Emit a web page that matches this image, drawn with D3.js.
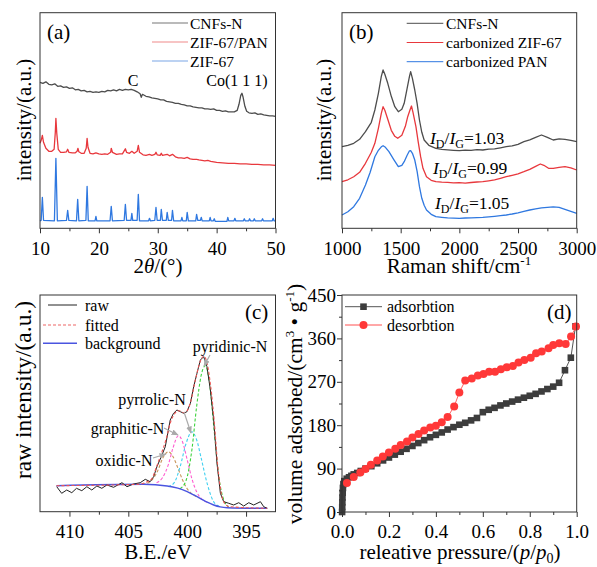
<!DOCTYPE html>
<html>
<head>
<meta charset="utf-8">
<script src="https://cdn.jsdelivr.net/npm/d3@7"></script>
<style>
  body { margin: 0; background: #fff; }
  svg { font-family: "Liberation Serif", "Times New Roman", serif; }
</style>
</head>
<body>
<main></main>
<script>
// ---- (a) XRD, [2theta, intensity a.u.]
const xrdCnfs = [[10,146],[10.5,145],[11,146.5],[11.5,144],[12,143.5],[12.5,144.5],[13,142],[13.5,142.5],[14,141],[14.5,141.5],[15,140],[15.5,140.5],[16,138.5],[16.5,139],[17,137.5],[17.5,138],[18,136.5],[18.5,137],[19,136],[19.5,136.5],[20,136],[20.5,137],[21,136.5],[21.5,138],[22,137.5],[22.5,138.5],[23,137.5],[23.5,139],[24,138],[24.5,139],[25,138.5],[25.5,139],[26,138],[26.5,136.5],[27,134.5],[27.2,131],[27.4,134],[28,132],[28.5,131.5],[29,130.5],[29.5,130],[30,129.5],[30.5,128.5],[31,128.5],[31.5,127],[32,126.5],[32.5,126],[33,125],[33.5,125],[34,124],[34.5,123.5],[35,122.5],[35.5,122.5],[36,121.5],[36.5,121],[37,120.5],[37.5,120.5],[38,119.5],[38.5,119.5],[39,119],[39.5,119.5],[40,118],[40.5,118],[41,117],[41.5,117.5],[42,116.5],[42.5,116.5],[43,116.5],[43.5,118],[43.8,124],[44.1,133],[44.3,135],[44.5,131],[44.8,122],[45.1,117],[45.5,115.5],[46,115],[46.5,115.5],[47,114],[47.5,114.5],[48,113.5],[48.5,113],[49,112.5],[49.5,112.5],[50,112]]
const xrdPan = [[10,85],[10.2,88],[10.4,93],[10.6,86],[11,80],[11.5,77],[12,77],[12.4,79],[12.6,96],[12.7,110],[12.85,95],[13.1,79],[13.5,76],[14,76],[14.5,76.5],[14.7,79],[14.9,76],[15.5,75.5],[16,75.5],[16.3,77],[16.45,80],[16.6,76.5],[17,75],[17.5,75],[17.85,80],[18,90],[18.15,81],[18.5,75],[19,74.5],[19.5,75.5],[20,74.5],[20.5,74],[21,74.5],[21.5,74],[22,76],[22.1,80],[22.3,76],[23,74],[23.5,74.5],[24,74.5],[24.5,79.5],[24.7,76],[25.2,75],[25.6,77],[26,75],[26.5,77],[26.7,83],[26.9,76],[27.5,73.5],[28,73],[28.6,74],[29,73],[29.5,74],[29.7,76],[29.9,73.5],[30.4,73],[30.6,75],[30.8,73],[31.6,74],[32,72.5],[32.5,74],[33,71.5],[33.5,70.5],[34,70.5],[34.5,70],[35,71],[35.5,69.5],[36,69],[36.6,69],[37,68.5],[37.5,68],[38,67.5],[38.5,68],[39,67],[39.5,66.5],[40,66],[41,65.5],[42,65],[43,65],[44,64.5],[45,64.5],[46,64],[47,64],[48,63.5],[49,63.5],[50,63]]
const xrdZif = [[10,7.5],[10.2,8],[10.4,31],[10.6,8],[12.45,7.5],[12.7,70],[12.95,7.5],[14.5,8],[14.7,18],[14.9,8],[16.2,7.5],[16.4,29],[16.6,7.5],[17.8,8],[18,42],[18.2,7.5],[19.35,7.5],[19.5,12],[19.65,7.5],[21.9,7.5],[22.1,22],[22.3,7.5],[24.3,8],[24.5,24],[24.7,8],[25.45,8],[25.6,15],[25.75,8],[26.5,8],[26.7,34],[26.9,7.5],[28.45,7.5],[28.6,10],[28.75,7.5],[29.5,8],[29.7,21],[29.9,8],[30.45,8],[30.6,19],[30.8,8],[31.45,8],[31.6,16],[31.8,8],[32.35,8],[32.5,18],[32.7,7.5],[33.95,7.5],[34.1,11],[34.25,7.5],[34.85,7.5],[35,16],[35.2,7.5],[36.45,7.5],[36.6,14],[36.8,8],[37.25,8],[37.4,11],[37.55,7.5],[38.75,7.5],[38.9,11],[39.05,7.5],[39.45,7.5],[39.6,9.5],[39.75,7],[41.75,7],[41.9,11],[42.05,7.5],[42.95,7.5],[43.1,10],[43.25,7.5],[44.55,7.5],[44.7,9.5],[44.85,7.5],[45.45,7.5],[45.6,9.5],[45.75,7.5],[46.25,7.5],[46.4,9.5],[46.55,7.5],[47.65,7.5],[47.8,9.5],[47.95,7.5],[49.45,7.5],[49.6,10],[49.75,7.5],[50,7.5]]
const xrdNames = ['CNFs-N', 'ZIF-67/PAN', 'ZIF-67']
const xrdTicks = [10, 20, 30, 40, 50]

// ---- (b) Raman, [shift, intensity a.u.]
const ramanCnfs = [[1000,81.6],[1050,83],[1100,85],[1150,89],[1200,96.6],[1250,106],[1280,118.3],[1310,135],[1335,152],[1350,158.3],[1365,154],[1390,145],[1420,132],[1450,121.6],[1480,116.6],[1510,119],[1530,125],[1555,140],[1575,152],[1585,156.6],[1600,150],[1620,138.3],[1640,125],[1660,108.3],[1680,96],[1700,88.3],[1740,83],[1800,80],[1850,79],[1900,78.5],[1950,78],[2000,77.6],[2050,78.2],[2100,78],[2150,78.6],[2200,78.3],[2250,79.2],[2300,79.5],[2350,80.5],[2400,81.6],[2450,82.4],[2500,84],[2550,86.6],[2600,88.5],[2650,91],[2700,93.3],[2750,91],[2800,88.3],[2850,89.5],[2900,89],[2950,88],[3000,86.6]]
const ramanZif = [[1000,46.6],[1050,48.5],[1100,51.6],[1150,56],[1200,65],[1250,76],[1280,85],[1310,100],[1335,115],[1350,121.6],[1365,118],[1390,109],[1420,98],[1450,92],[1475,90],[1510,93],[1540,102],[1560,111.6],[1580,118.5],[1592,122.3],[1605,116],[1630,101.6],[1650,86],[1670,71.6],[1690,60],[1720,51.6],[1760,48],[1800,46.6],[1850,46.2],[1900,46],[1950,45.4],[2000,45.6],[2050,45.2],[2100,45.8],[2150,46.3],[2200,46.6],[2250,47.5],[2300,48.5],[2350,50],[2400,51.6],[2450,53],[2500,54.5],[2550,56.6],[2600,59],[2650,62],[2690,64.3],[2720,63],[2760,60],[2800,60],[2850,61],[2900,61.6],[2950,60.5],[3000,58.3]]
const ramanPan = [[1000,13.3],[1050,16.5],[1100,21.6],[1150,30],[1200,43.3],[1240,56],[1280,71.6],[1310,78],[1335,81.5],[1350,82.6],[1370,81],[1400,76.6],[1440,69],[1480,61.6],[1510,63],[1530,66.6],[1555,73],[1575,77.5],[1585,77.6],[1600,75],[1620,68.3],[1640,57],[1660,41.6],[1680,30],[1700,23],[1720,18.3],[1760,14],[1800,11.6],[1850,11],[1900,10.5],[1950,10.2],[2000,10],[2050,10.3],[2100,10.5],[2150,10.7],[2200,11],[2250,11.5],[2300,12],[2350,12.6],[2400,13.3],[2450,14.3],[2500,15.5],[2550,17],[2600,18.3],[2650,19.5],[2700,20.5],[2750,21],[2800,21.5],[2850,21],[2900,19],[2950,17],[3000,15]]
const ramanNames = ['CNFs-N', 'carbonized ZIF-67', 'carbonized PAN']
const ratioLabels = ['1.03', '0.99', '1.05']
const ramanTicks = [1000, 1500, 2000, 2500, 3000]

// ---- (c) XPS N1s, [binding energy, intensity a.u.]
const xpsRaw = [[411.08,25],[410.66,18.4],[410.23,21.7],[409.8,19],[409.4,23.4],[408.95,21],[408.52,25],[408.1,21.7],[407.67,25.7],[407.25,23.4],[406.82,26.7],[406.25,24.4],[405.54,29],[405.11,25],[404.56,27.7],[403.99,29],[403.56,32.4],[403.14,30],[402.85,35],[402.57,45],[402.14,56.7],[401.86,65],[401.44,91.7],[401.16,98.4],[400.87,101.7],[400.58,100],[400.3,98.4],[400.02,100],[399.73,108.4],[399.45,125],[399.17,138.4],[398.88,151.7],[398.6,155],[398.32,145],[398.03,121.7],[397.75,91.7],[397.47,48.4],[397.18,18.4],[396.9,10],[396.47,8.4],[396.05,6.7],[395.62,9],[395.2,5.7],[394.77,9],[394.35,6.7],[393.78,10],[393.5,5],[393.21,3.4]]
const xpsFit = [[411.1,26],[404,27.5],[403.4,30],[403,33],[402.6,45],[402.2,58],[401.8,72],[401.4,90],[401,99],[400.7,101],[400.3,99],[400,101],[399.7,110],[399.3,132],[398.9,150],[398.6,155.5],[398.3,148],[398,125],[397.7,90],[397.4,45],[397.1,18],[396.8,8],[396.4,5],[393.2,3.4]]
const xpsBackground = [[411.1,26],[403.7,27.4],[401.7,25.7],[400.8,23.5],[400,20],[399.4,16.5],[398.9,13.4],[398.3,9.5],[397.75,6.7],[397.2,4.8],[396.6,4],[393.2,3.4]]
const xpsOxidic = [[403.8,27.3],[403.3,29],[402.9,33],[402.5,41],[402.1,53],[401.6,60],[401.2,55],[400.8,44],[400.4,32],[400,23],[399.5,17],[399,14]]
const xpsGraphitic = [[402.6,29],[402.1,34],[401.6,47],[401.2,64],[400.75,76],[400.4,70],[400,52],[399.6,33],[399.2,20],[398.8,13],[398.3,9.5]]
const xpsPyrrolic = [[401.6,25],[401.1,29],[400.6,45],[400.1,68],[399.6,80],[399.2,72],[398.8,53],[398.3,28],[397.8,11],[397.3,5.5]]
const xpsPyridinic = [[400.6,23],[400.1,31],[399.6,62],[399.2,105],[398.8,137],[398.45,146],[398.1,128],[397.7,80],[397.3,34],[396.9,12],[396.5,5]]
const xpsNames = ['raw', 'fitted', 'background']
const xpsTicks = [410, 405, 400, 395]

// ---- (d) N2 isotherm
const adsP = [0.0005,0.001,0.0015,0.002,0.003,0.004,0.006,0.01,0.02,0.03,0.04,0.05,0.065,0.08,0.1,0.125,0.15,0.175,0.2,0.225,0.25,0.275,0.3,0.325,0.35,0.375,0.4,0.425,0.45,0.475,0.5,0.525,0.55,0.575,0.6,0.625,0.65,0.675,0.7,0.725,0.75,0.775,0.8,0.825,0.85,0.875,0.9,0.925,0.95,0.975,0.995]
const adsV = [0,10,20,30,40,50,58,64,69,72,75,78,81,85,90,95,101,107,113,119,125,131,137,143,149,155,160,165,171,176,181,185,190,195,207,212,216,221,225,229,233,237,241,245,250,255,260,268,294,320,385]
const desP = [0.021,0.05,0.078,0.1,0.123,0.15,0.174,0.2,0.227,0.25,0.277,0.3,0.326,0.35,0.376,0.4,0.425,0.45,0.478,0.5,0.525,0.553,0.579,0.603,0.627,0.652,0.677,0.702,0.728,0.752,0.777,0.804,0.827,0.851,0.88,0.9,0.926,0.953,0.976,0.997]
const desV = [60,72.5,82,89,98,107,115,123.5,131,139,146,154.6,162,169,175,179,186,197,219,248,272.6,277,283,286,290.6,291,296,300,303,310,315,320,329,333,339.6,346.5,350,348.6,363.7,384.5]
const isoNames = ['adsorbtion', 'desorbtion']
const pTicks = [0, 0.2, 0.4, 0.6, 0.8, 1.0]
const vTicks = [0, 90, 180, 270, 360, 450]

const width = 597
const height = 567
const font = '"Liberation Serif", "Times New Roman", serif'

const boxes = {
  a: { l: 40, t: 12.7, r: 275.5, b: 228.3 },
  b: { l: 342, t: 12.7, r: 576.7, b: 228.3 },
  c: { l: 40, t: 295, r: 275.5, b: 511.7 },
  d: { l: 342, t: 295, r: 576.7, b: 512 }
}

const svg = d3.select('main')
              .append('svg')
              .attr('width', width)
              .attr('height', height)

const defs = svg.append('defs')
defs.append('marker')
    .attr('id', 'arrow')
    .attr('viewBox', '0 0 10 10')
    .attr('refX', 9).attr('refY', 5)
    .attr('markerWidth', 6).attr('markerHeight', 6)
    .attr('orient', 'auto-start-reverse')
  .append('path')
    .attr('d', 'M0,1 L10,5 L0,9 z')
    .attr('fill', '#aaa')

const frame = (box) => {
  svg.append('rect')
     .attr('x', box.l).attr('y', box.t)
     .attr('width', box.r - box.l).attr('height', box.b - box.t)
     .attr('fill', 'none').attr('stroke', '#333').attr('stroke-width', 1)
}

const styleAxis = (g) => {
  g.select('.domain').remove()
  g.attr('color', '#333')
   .attr('font-family', font)
   .attr('font-size', 19)
  g.selectAll('text').attr('fill', '#000')
}

const bottomAxis = (box, x, major, fmt) => {
  const minor = []
  for (let i = 0; i < major.length - 1; i++) minor.push((major[i] + major[i + 1]) / 2)
  svg.append('g')
     .attr('transform', `translate(0,${box.b})`)
     .call(d3.axisBottom(x).tickValues(minor).tickSize(3).tickFormat(''))
     .call(styleAxis)
  svg.append('g')
     .attr('transform', `translate(0,${box.b})`)
     .call(d3.axisBottom(x).tickValues(major).tickSize(5).tickPadding(8).tickFormat(fmt))
     .call(styleAxis)
}

const leftAxis = (box, y, major) => {
  const minor = []
  for (let i = 0; i < major.length - 1; i++) minor.push((major[i] + major[i + 1]) / 2)
  svg.append('g')
     .attr('transform', `translate(${box.l},0)`)
     .call(d3.axisLeft(y).tickValues(minor).tickSize(3).tickFormat(''))
     .call(styleAxis)
  svg.append('g')
     .attr('transform', `translate(${box.l},0)`)
     .call(d3.axisLeft(y).tickValues(major).tickSize(5).tickPadding(1).tickFormat(d3.format('d')))
     .call(styleAxis)
}

const text = (x, y, str, size, anchor = 'start') => {
  return svg.append('text')
            .attr('x', x).attr('y', y)
            .attr('font-family', font)
            .attr('font-size', size)
            .attr('text-anchor', anchor)
            .attr('fill', '#000')
            .text(str)
}

const yTitle = (x, y, size) => {
  return svg.append('text')
            .attr('transform', `translate(${x},${y}) rotate(-90)`)
            .attr('font-family', font)
            .attr('font-size', size)
            .attr('text-anchor', 'middle')
            .attr('fill', '#000')
}

const drawLine = (data, x, y, color, w = 1.2, curve = d3.curveLinear, dash = null) => {
  svg.append('path')
     .datum(data)
     .attr('d', d3.line().x(d => x(d[0])).y(d => y(d[1])).curve(curve))
     .attr('fill', 'none')
     .attr('stroke', color)
     .attr('stroke-width', w)
     .attr('stroke-linejoin', 'round')
     .attr('stroke-dasharray', dash)
}

const legendLine = (x1, x2, y, color, w = 1.2, dash = null) => {
  svg.append('line')
     .attr('x1', x1).attr('x2', x2).attr('y1', y).attr('y2', y)
     .attr('stroke', color).attr('stroke-width', w)
     .attr('stroke-dasharray', dash)
}

// ---------------- panel (a)
const drawXrd = () => {
  const box = boxes.a
  const x = d3.scaleLinear().domain([10, 50]).range([box.l, box.r])
  const y = d3.scaleLinear().domain([0, 215.6]).range([box.b, box.t])
  const colors = ['#4d4d4d', '#e8383d', '#2f78e0']
  const legendColors = ['#777', '#f08a8a', '#7aa6e6']
  const series = [xrdCnfs, xrdPan, xrdZif]
  series.forEach((s, i) => drawLine(s, x, y, colors[i], 1.3))
  frame(box)
  bottomAxis(box, x, xrdTicks, d3.format('d'))

  xrdNames.forEach((n, i) => {
    const ly = 23 + i * 19
    legendLine(152, 188, ly, legendColors[i], 1.2)
    text(190, ly + 5.5, n, 15.5)
  })
  text(47, 39, '(a)', 21)
  text(133, 86, 'C', 16, 'middle')
  text(237, 86, 'Co(1 1 1)', 16, 'middle')

  const t = text(158, 273, '', 21, 'middle')
  t.append('tspan').text('2')
  t.append('tspan').attr('font-style', 'italic').text('θ')
  t.append('tspan').text('/(°)')
  yTitle(31, 120, 21).text('intensity/(a.u.)')
}

// ---------------- panel (b)
const drawRaman = () => {
  const box = boxes.b
  const x = d3.scaleLinear().domain([1000, 3000]).range([box.l, box.r])
  const y = d3.scaleLinear().domain([0, 215.6]).range([box.b, box.t])
  const colors = ['#4d4d4d', '#e8383d', '#2f78e0']
  const series = [ramanCnfs, ramanZif, ramanPan]
  series.forEach((s, i) => drawLine(s, x, y, colors[i], 1.3))
  frame(box)
  bottomAxis(box, x, ramanTicks, d3.format('d'))

  ramanNames.forEach((n, i) => {
    const ly = 23.3 + i * 19.2
    legendLine(406.7, 443.3, ly, colors[i], 1)
    text(446, ly + 5.5, n, 15.5)
  })
  text(349, 39, '(b)', 21)

  const ratioPos = [[430, 144], [433, 174], [435, 209]]
  ratioLabels.forEach((r, i) => {
    const t = text(ratioPos[i][0], ratioPos[i][1], '', 17.5)
    t.append('tspan').attr('font-style', 'italic').text('I')
    t.append('tspan').attr('font-size', 12).attr('dy', 4).text('D')
    t.append('tspan').attr('dy', -4).text('/')
    t.append('tspan').attr('font-style', 'italic').text('I')
    t.append('tspan').attr('font-size', 12).attr('dy', 4).text('G')
    t.append('tspan').attr('dy', -4).text('=' + r)
  })

  const t = text(459, 273, 'Raman shift/cm', 21, 'middle')
  t.append('tspan').attr('font-size', 13).attr('dy', -8).text('-1')
  yTitle(331, 120, 21).text('intensity/(a.u.)')
}

// ---------------- panel (c)
const drawXps = () => {
  const box = boxes.c
  const x = d3.scaleLinear().domain([412.5, 392.5]).range([box.l, box.r])
  const y = d3.scaleLinear().domain([0, 216.7]).range([box.b, box.t])
  const smooth = d3.curveMonotoneX

  drawLine(xpsOxidic, x, y, '#c8955a', 1.1, smooth, '3,2')
  drawLine(xpsGraphitic, x, y, '#ff5ccf', 1.1, smooth, '3,2')
  drawLine(xpsPyrrolic, x, y, '#3fd0f0', 1.1, smooth, '3,2')
  drawLine(xpsPyridinic, x, y, '#3cd23c', 1.1, smooth, '3,2')
  drawLine(xpsBackground, x, y, '#4a55e0', 1.4, smooth)
  drawLine(xpsRaw, x, y, '#222', 1)
  drawLine(xpsFit, x, y, '#ee5555', 1.1, smooth, '3,2')

  frame(box)
  bottomAxis(box, x, xpsTicks, d3.format('d'))

  const legendStyle = [['#222', 1, null], ['#ee6666', 1.2, '3,2'], ['#4a55e0', 1.6, null]]
  xpsNames.forEach((n, i) => {
    const ly = [305, 325, 343.3][i]
    legendLine(i === 0 ? 48 : 43, 77, ly, legendStyle[i][0], legendStyle[i][1], legendStyle[i][2])
    text(85, ly + 5.5, n, 16)
  })
  text(245, 319, '(c)', 21)

  const notes = [
    ['pyridinic-N', 230, 352, [210, 355], [204, 366]],
    ['pyrrolic-N', 152, 405, [184, 412], [191, 433]],
    ['graphitic-N', 127.5, 434, [164, 428], [178, 435]],
    ['oxidic-N', 124, 466, [153, 458], [166, 454]]
  ]
  notes.forEach(n => {
    text(n[1], n[2], n[0], 16, 'middle')
    svg.append('line')
       .attr('x1', n[3][0]).attr('y1', n[3][1])
       .attr('x2', n[4][0]).attr('y2', n[4][1])
       .attr('stroke', '#aaa').attr('stroke-width', 1.2)
       .attr('marker-end', 'url(#arrow)')
  })

  text(158, 559, 'B.E./eV', 21, 'middle')
  yTitle(31, 390, 23.5).text('raw intensity/(a.u.)')
}

// ---------------- panel (d)
const drawIsotherm = () => {
  const box = boxes.d
  const x = d3.scaleLinear().domain([0, 1]).range([box.l, box.r])
  const y = d3.scaleLinear().domain([0, 450]).range([box.b, box.t])
  const ads = adsP.map((p, i) => [p, adsV[i]])
  const des = desP.map((p, i) => [p, desV[i]])

  drawLine(ads, x, y, '#555', 1)
  drawLine(des, x, y, '#ff5050', 0.9)

  svg.append('g').selectAll('rect')
     .data(ads).enter().append('rect')
     .attr('x', d => x(d[0]) - 3.3).attr('y', d => y(d[1]) - 3.3)
     .attr('width', 6.6).attr('height', 6.6)
     .attr('fill', '#3d3d3d')
  svg.append('g').selectAll('circle')
     .data(des).enter().append('circle')
     .attr('cx', d => x(d[0])).attr('cy', d => y(d[1]))
     .attr('r', 4)
     .attr('fill', '#ff3838')

  frame(box)
  bottomAxis(box, x, pTicks, d3.format('.1f'))
  leftAxis(box, y, vTicks)

  legendLine(345, 382, 306.7, '#555', 1)
  svg.append('rect').attr('x', 363.5 - 3.3).attr('y', 306.7 - 3.3).attr('width', 6.6).attr('height', 6.6).attr('fill', '#3d3d3d')
  text(387, 312, isoNames[0], 16)
  legendLine(345, 382, 325, '#ff5050', 1)
  svg.append('circle').attr('cx', 363.5).attr('cy', 325).attr('r', 4).attr('fill', '#ff3838')
  text(387, 330.5, isoNames[1], 16)
  text(547, 319, '(d)', 21)

  const t = text(460, 559, 'releative pressure/(', 21, 'middle')
  t.append('tspan').attr('font-style', 'italic').text('p')
  t.append('tspan').text('/')
  t.append('tspan').attr('font-style', 'italic').text('p')
  t.append('tspan').attr('font-size', 14).attr('dy', 4).text('0')
  t.append('tspan').attr('dy', -4).text(')')

  const v = yTitle(302, 404, 21.5).text('volume adsorbed/(cm')
  v.append('tspan').attr('font-size', 13).attr('dy', -8).text('3')
  v.append('tspan').attr('dy', 8).text(' • g')
  v.append('tspan').attr('font-size', 13).attr('dy', -8).text('-1')
  v.append('tspan').attr('dy', 8).text(')')
}

drawXrd()
drawRaman()
drawXps()
drawIsotherm()
</script>
</body>
</html>
